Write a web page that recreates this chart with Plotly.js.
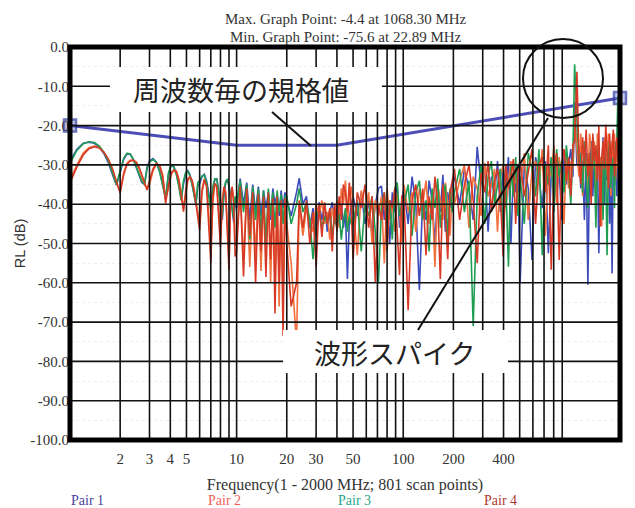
<!DOCTYPE html>
<html>
<head>
<meta charset="utf-8">
<script src="https://cdn.plot.ly/plotly-3.0.1.min.js"></script>
<style>html,body{margin:0;padding:0;background:#fff;}</style>
</head>
<body>
<div id="chart" style="width:635px;height:508px;"></div>
<script>
// ---------- data ----------
const FREQ_MHZ = [
  1.0,1.1,1.2,1.3,1.4,1.5,1.6,1.7,1.8,1.9,2.0,2.1,2.2,2.3,2.4,2.5,2.6,2.7,2.8,2.9,
  3.0,3.15,3.3,3.45,3.6,3.75,3.9,4.05,4.2,4.35,4.5,4.65,4.8,4.95,5.1,5.25,5.4,5.55,5.7,5.85,
  6.0,6.2,6.4,6.6,6.8,7.0,7.2,7.4,7.6,7.8,8.0,8.2,8.4,8.6,8.8,9.0,9.2,9.4,9.6,9.8,
  10,10.5,11,11.5,12,12.5,13,13.5,14,14.5,15,15.5,16,16.5,17,17.5,18,18.5,19,19.5,
  20,21.25,22.89,23.75,25,26.25,27.5,28.75,30,31.25,32.5,33.75,35,36.25,37.5,38.75,40,41.25,42.5,43.75,45,46.25,47.5,48.75,
  50,53,56,59,62,65,68,71,74,77,80,83,86,89,92,95,98,
  101,107,113,119,125,131,137,143,149,155,161,167,173,179,185,191,197,
  203,218,233,248,263,278,293,308,323,338,353,368,383,398,413,428,443,458,473,488,
  503,533,563,593,623,653,683,713,743,773,803,833,863,893,923,953,983,1013,1043,1068.3,
  1103,1133,1163,1193,1223,1253,1283,1313,1343,1373,1403,1433,1463,1493,1523,1553,1583,1613,1643,1673,
  1703,1733,1763,1793,1823,1853,1883,1913,1943,1973,2000
];

const PAIR1_DB = [
  -29.0,-26.0,-24.5,-24.2,-24.5,-25.5,-27.2,-29.5,-32.5,-35.2,-32.0,-28.6,-27.2,-27.3,-28.7,-30.6,-32.6,-34.5,-34.8,-30.6,
  -29.0,-28.4,-29.3,-31.6,-35.0,-38.7,-32.5,-30.1,-30.4,-32.2,-35.0,-38.8,-34.8,-32.2,-31.5,-32.5,-34.6,-37.5,-40.3,-35.2,
  -34.8,-33.0,-32.4,-34.0,-37.0,-41.0,-36.2,-33.8,-33.4,-36.5,-40.0,-44.0,-37.5,-34.5,-33.6,-35.0,-38.0,-41.0,-44.5,-39.0,
  -41,-33.5,-40,-34.5,-44,-35,-42,-35.5,-43,-36.5,-41,-37,-44,-36,-40,-37.5,-43,-36.5,-41,-37,
  -39,-43,-37,-33.4,-40,-38,-46,-41,-48,-39.5,-44,-40,-47,-42,-39.5,-45,-41,-43,-40,-46,-42,-59,-44,-40,
  -38,-43,-37,-45,-39,-48,-40,-36,-35.4,-44,-38,-50,-37,-42,-35,-46,-39,
  -36,-45,-33,-40,-61.8,-38,-44,-34,-39,-50,-36,-42,-32.5,-47,-37,-41,-35,
  -33,-40,-31,-36,-44,-25.4,-35,-30,-47,-33,-38,-29,-42,-31,-36,-28,-50,-32,-37,-30,
  -60.1,-30,-36,-54.2,-28,-33,-41,-29,-52.5,-32,-27,-38,-31,-44,-28,-35,-30,-26,-33,-14,
  -30,-25,-36,-29,-44,-27,-60.5,-31,-24,-38,-28,-33,-26,-52.5,-30,-36,-23,-40,-29,-34,
  -27,-45,-31,-57.6,-26,-35,-24,-38,-16,-28,-25
];

const PAIR2_DB = [
  -33.8,-30.0,-27.0,-25.6,-25.2,-25.6,-26.9,-28.8,-31.5,-34.8,-36.6,-32.0,-29.5,-28.8,-28.9,-29.6,-31.0,-33.0,-35.2,-35.8,
  -35.0,-31.5,-29.8,-30.0,-32.5,-38.5,-36.0,-32.5,-31.4,-31.5,-33.5,-36.8,-41.0,-37.5,-34.0,-33.2,-33.8,-36.0,-39.0,-42.5,
  -45.0,-36.2,-33.5,-35.0,-42.0,-52.0,-39.5,-35.0,-35.2,-41.0,-48.5,-40.5,-36.0,-36.8,-45.0,-54.5,-40.0,-35.8,-38.5,-50.5,
  -49,-36,-54,-36.5,-56,-37.5,-53,-36.5,-57,-38.5,-51,-38,-60,-37.5,-58,-39,-66,-38,-62,-40,
  -45,-55,-75.6,-40,-48,-41,-44,-47,-40,-43,-39,-45,-42,-49,-41,-44,-39,-46,-36,-40,-34,-45,-38,-35.5,
  -40,-53,-36.5,-42,-37,-50,-39,-43,-38,-55,-36,-44,-40,-47,-37,-42,-50,
  -35,-42,-37,-47,-36,-40,-34,-45,-38,-56,-35,-39,-44,-34.5,-40,-48,-36,
  -40,-34,-30,-46,-33,-36,-43,-29.5,-38,-35,-31,-47,-33,-30,-41,-34,-29,-37,-32,-39,
  -36,-27,-44,-31,-29,-35,-26,-48,-30,-33,-25,-40,-28,-34,-45,-27,-36,-29,-31,-18,
  -27,-33,-22,-38,-26,-29,-35,-22,-26,-31,-24,-37,-22,-30,-28,-45.7,-27,-23,-33,-26,
  -22,-29,-38,-24,-28,-22,-34,-26,-31,-25,-30
];

const PAIR3_DB = [
  -29.6,-26.3,-24.6,-24.1,-24.3,-25.2,-26.8,-29.0,-32.0,-35.0,-31.5,-28.3,-27.0,-27.2,-28.5,-30.3,-32.3,-34.2,-35.0,-31.0,
  -29.3,-28.6,-29.4,-31.8,-35.5,-38.5,-32.0,-30.0,-30.6,-32.5,-35.5,-39.0,-34.0,-31.9,-31.7,-32.8,-35.0,-38.0,-40.0,-34.5,
  -34.0,-32.8,-32.6,-34.5,-37.8,-41.5,-35.5,-33.5,-33.6,-37.0,-40.5,-43.2,-36.5,-34.2,-33.8,-35.5,-38.5,-41.5,-43.6,-38.0,
  -40,-34,-42,-35,-49,-35.5,-44,-36,-47,-36.5,-50.5,-36,-43,-37,-46,-36.5,-42,-37.5,-45,-38,
  -38,-45,-40,-36,-42,-39.5,-44,-54,-43,-41.5,-46,-43,-45,-41.5,-48,-43,-46,-42.5,-49,-44,-41,-47,-43,-45,
  -45,-39,-52,-40,-43,-38,-47,-60,-41,-37,-45,-39,-49,-36,-34.5,-43,-40,
  -40,-35,-48,-37,-34,-44,-39,-52,-36,-41,-33.5,-46,-38,-35,-49,-36,-42,
  -37,-31,-42,-34,-71,-38,-30,-45,-33,-29,-40,-35,-31,-48,-34,-55.9,-30,-38,-28,-43,
  -33,-45,-27,-31,-38,-26,-53,-30,-35,-28,-42,-26,-33,-29,-37,-25,-31,-40,-27,-4.4,
  -20,-30,-27,-37,-24,-32,-41,-27,-35,-23,-30,-46,-28,-25,-34,-29,-44,-26,-32,-53,
  -27,-24,-36,-30,-28,-41,-25,-24,-12.6,-30,-27
];

const PAIR4_DB = [
  -34.6,-30.5,-27.5,-25.9,-25.4,-25.7,-26.8,-28.5,-31.0,-34.0,-37.2,-32.5,-29.8,-29.0,-28.8,-29.3,-30.6,-32.5,-34.5,-36.4,
  -34.0,-31.0,-29.6,-30.2,-33.0,-39.8,-35.0,-32.0,-31.3,-31.8,-34.0,-37.5,-41.9,-36.5,-33.5,-33.0,-34.0,-36.5,-40.0,-44.0,
  -46.6,-37.0,-33.8,-35.5,-44.0,-55.0,-38.0,-34.7,-35.5,-43.0,-50.8,-39.0,-35.5,-37.5,-48.0,-56.7,-38.5,-35.5,-40.0,-53.3,
  -52,-35.5,-58.4,-36,-48,-37,-60.1,-37.5,-52,-38,-58.5,-37,-54,-38.5,-67.8,-38,-60,-39,-73.5,-38.5,
  -50,-66,-60,-39,-46,-39,-50,-42,-56,-40,-48.3,-39.5,-45,-41,-52,-40,-47,-38,-44,-35,-37,-42,-34.5,-41,
  -54,-37,-41,-35,-46,-38,-60,-40,-44,-37,-52,-39,-41,-36,-47,-58,-38,
  -38,-67,-39,-35,-43,-36,-53,-38,-44,-33,-40,-59,-35,-42,-54,-37,-34,
  -31,-44,-35,-30,-39,-55,-32,-37,-29,-42,-34,-31,-38,-53.3,-30,-36,-33,-28.5,-45,-32,
  -29,-38,-32,-26,-45,-30,-28,-37,-25,-56.7,-31,-27,-54.2,-30,-26,-34,-28,-38,-25,-24,
  -6.3,-28,-35,-23,-30,-21,-33,-27,-40,-22,-29,-25,-34,-20,-45.7,-28,-24,-31,-19.8,-27,
  -36,-22,-30,-25,-21,-33,-27,-23,-29,-22,-14.3
];

const SERIES_NAMES = ['Pair 1', 'Pair 2', 'Pair 3', 'Pair 4'];
const SERIES_COLORS = ['#3d4cbc', '#f2703c', '#1f9e52', '#d63a26'];
const LABEL_COLORS = ['#4b3f9c', '#f0605a', '#2aa58a', '#b03a30'];

// frequency-dependent limit (spec) line
const LIMIT_FREQ = [1, 10, 40, 2000];
const LIMIT_DB = [-20, -25, -25, -13];

const X_TICK_VALS = [2,3,4,5,6,7,8,9,10,20,30,40,50,60,70,80,90,100,200,300,400,500,600,700,800,900];
const X_TICK_TEXT = ['2','3','4','5','','','','','10','20','30','','50','','','','','100','200','','400','','','','',''];
const Y_TICK_VALS = [0,-10,-20,-30,-40,-50,-60,-70,-80,-90,-100];
const Y_TICK_TEXT = ['0.0','-10.0','-20.0','-30.0','-40.0','-50.0','-60.0','-70.0','-80.0','-90.0','-100.0'];

const TITLE_LINES = ['Max. Graph Point: -4.4 at 1068.30 MHz', 'Min. Graph Point: -75.6 at 22.89 MHz'];
const X_TITLE = 'Frequency(1 - 2000 MHz; 801 scan points)';
const Y_TITLE = 'RL (dB)';
const NOTE_LIMIT = '周波数毎の規格値';
const NOTE_SPIKE = '波形スパイク';

// ---------- traces ----------
const SERIF = 'Liberation Serif, Times New Roman, serif';
const CJK = 'Noto Sans CJK JP, sans-serif';

const traces = [];
traces.push({
  x: LIMIT_FREQ, y: LIMIT_DB, type: 'scatter', mode: 'lines+markers',
  line: {color: '#4d4db8', width: 3},
  marker: {symbol: 'square', size: [12, 0, 0, 12], color: 'rgba(120,130,215,0.6)', line: {color: '#2c389e', width: 2.5}},
  cliponaxis: false, hoverinfo: 'skip', showlegend: false
});
[PAIR1_DB, PAIR2_DB, PAIR3_DB, PAIR4_DB].forEach((ys, i) => {
  traces.push({
    x: FREQ_MHZ, y: ys, type: 'scatter', mode: 'lines', name: SERIES_NAMES[i],
    line: {color: SERIES_COLORS[i], width: 1.6}, showlegend: false
  });
});

// ---------- shapes (grid drawn over data, border, callouts) ----------
const GRID = {color: '#111', width: 1.6};
const shapes = [];
X_TICK_VALS.forEach(v => shapes.push({type: 'line', xref: 'x', yref: 'paper', x0: v, x1: v, y0: 0, y1: 1, line: GRID, layer: 'above'}));
Y_TICK_VALS.slice(1, -1).forEach(v => shapes.push({type: 'line', xref: 'paper', yref: 'y', x0: 0, x1: 1, y0: v, y1: v, line: GRID, layer: 'above'}));
shapes.push({type: 'rect', xref: 'paper', yref: 'paper', x0: 0, x1: 1, y0: 0, y1: 1, line: {color: '#000', width: 5}, layer: 'above'});
// callout boxes
shapes.push({type: 'rect', xref: 'paper', yref: 'paper', x0: 0.0727, x1: 0.567, y0: 0.8346, y1: 0.949, fillcolor: '#fff', line: {width: 0}, layer: 'above'});
shapes.push({type: 'rect', xref: 'paper', yref: 'paper', x0: 0.3873, x1: 0.7964, y0: 0.1705, y1: 0.2799, fillcolor: '#fff', line: {width: 0}, layer: 'above'});
// leader lines and circle
shapes.push({type: 'line', xref: 'paper', yref: 'paper', x0: 0.3673, y0: 0.8346, x1: 0.4382, y1: 0.7481, line: {color: '#111', width: 2}, layer: 'above'});
shapes.push({type: 'line', xref: 'paper', yref: 'paper', x0: 0.6327, y0: 0.2799, x1: 0.8691, y1: 0.8193, line: {color: '#111', width: 2}, layer: 'above'});
shapes.push({type: 'circle', xref: 'paper', yref: 'paper', x0: 0.8236, x1: 0.9691, y0: 0.8193, y1: 1.0204, line: {color: '#111', width: 2}, layer: 'above'});

// ---------- annotations ----------
const annotations = [
  {xref: 'paper', yref: 'paper', x: 0.311, y: 0.8906, xanchor: 'center', yanchor: 'middle', text: NOTE_LIMIT, showarrow: false, font: {family: CJK, size: 27, color: '#222'}},
  {xref: 'paper', yref: 'paper', x: 0.5909, y: 0.2214, xanchor: 'center', yanchor: 'middle', text: NOTE_SPIKE, showarrow: false, font: {family: CJK, size: 27, color: '#222'}},
  {xref: 'paper', yref: 'paper', x: 0.5018, y: 1.0700, xanchor: 'center', yanchor: 'middle', text: TITLE_LINES[0], showarrow: false, font: {family: SERIF, size: 15, color: '#333'}},
  {xref: 'paper', yref: 'paper', x: 0.5018, y: 1.0254, xanchor: 'center', yanchor: 'middle', text: TITLE_LINES[1], showarrow: false, font: {family: SERIF, size: 15, color: '#333'}}
];
const PAIR_X = [0.0327, 0.28, 0.5164, 0.7836];
SERIES_NAMES.forEach((n, i) => annotations.push({
  xref: 'paper', yref: 'paper', x: PAIR_X[i], y: -0.1527, xanchor: 'center', yanchor: 'middle', text: n, showarrow: false,
  font: {family: SERIF, size: 14, color: LABEL_COLORS[i]}
}));

const layout = {
  width: 635, height: 508,
  margin: {l: 70, r: 15, t: 47, b: 68},
  paper_bgcolor: '#fff', plot_bgcolor: '#fff',
  showlegend: false,
  font: {family: SERIF, color: '#333', size: 15},
  xaxis: {
    type: 'log', range: [0, Math.log10(2000)], tickmode: 'array', tickvals: X_TICK_VALS, ticktext: X_TICK_TEXT,
    showgrid: false, zeroline: false, showline: false, ticks: '', ticklabelstandoff: 8,
    tickfont: {family: SERIF, size: 15, color: '#333'},
    title: {text: X_TITLE, standoff: 12, font: {family: SERIF, size: 16, color: '#333'}}
  },
  yaxis: {
    range: [-100, 0], tickmode: 'array', tickvals: Y_TICK_VALS, ticktext: Y_TICK_TEXT,
    showgrid: false, zeroline: false, showline: false, ticks: '',
    tickfont: {family: SERIF, size: 15, color: '#333'},
    minor: {tickmode: 'linear', tick0: 0, dtick: 5, showgrid: true, gridcolor: '#eeeeee', griddash: 'dot', gridwidth: 1},
    title: {text: Y_TITLE, standoff: 1, font: {family: 'Liberation Sans, Arial, sans-serif', size: 14.5, color: '#333'}}
  },
  shapes: shapes,
  annotations: annotations
};

Plotly.newPlot('chart', traces, layout, {displayModeBar: false, staticPlot: true});
</script>
</body>
</html>
